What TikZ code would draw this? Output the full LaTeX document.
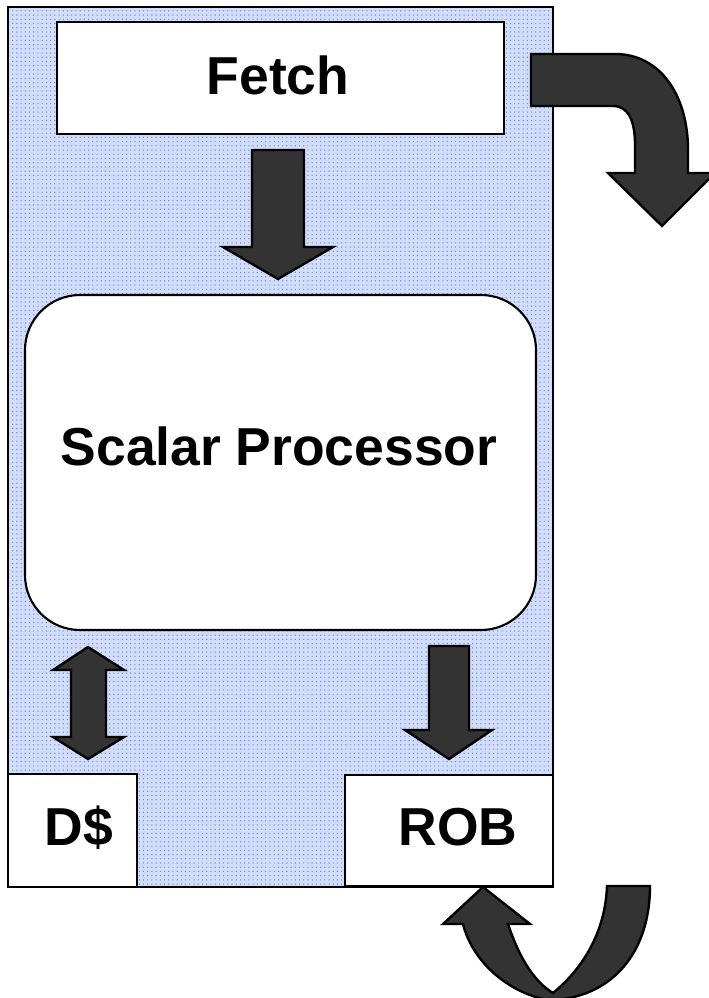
\documentclass[tikz,border=0pt]{standalone}
\usepackage{fontspec}
\setmainfont{Liberation Sans}
\usetikzlibrary{patterns}
\definecolor{panelblue}{RGB}{210,221,250}
\definecolor{dotblue}{RGB}{100,136,240}
\definecolor{arrowgray}{RGB}{51,51,51}
\tikzset{
  box/.style={draw=black, line width=1.5pt, fill=white},
  blockarrow/.style={draw=black, line width=1.7pt, fill=arrowgray, line join=miter},
  lbl/.style={anchor=base, inner sep=0pt, font=\fontsize{38}{45}\selectfont\bfseries}
}

\begin{document}
\begin{tikzpicture}[x=0.025cm, y=-0.025cm]
  \useasboundingbox (0,0) rectangle (709,998);

  % Core panel
  \fill[panelblue] (8,7) rectangle (553,887);
  \fill[pattern=dots, pattern color=dotblue] (8,7) rectangle (553,887);
  \draw[line width=2.1pt] (8,7) rectangle (553,887);

  % Boxes
  \draw[box] (57,22) rectangle (504,134);
  \node[lbl] (fetch) at (278,95) {Fetch};

  \draw[box, rounded corners=1.375cm] (25,295) rectangle (536,630);
  \node[lbl] (scalar) at (279,465) {Scalar Processor};

  \draw[box] (8,774) rectangle (137,887);
  \node[lbl] (dcache) at (79,845) {D\$};

  \draw[box] (345,775) rectangle (553,886);
  \node[lbl] (rob) at (458,845) {ROB};

  % Straight block arrows
  \draw[blockarrow] (252,150) -- (304,150) -- (304,247) -- (333,247) -- (278,279)
    -- (223,247) -- (252,247) -- cycle;
  \draw[blockarrow] (88,647) -- (124,670) -- (106,670) -- (106,737) -- (124,737)
    -- (88,759) -- (53,737) -- (71,737) -- (71,670) -- (53,670) -- cycle;
  \draw[blockarrow] (429,646) -- (469,646) -- (469,730) -- (492,730) -- (449,759)
    -- (405,730) -- (429,730) -- cycle;

  % Curved block arrows
  \draw[blockarrow] (531,54) -- (615,54) .. controls (660,54) and (688,95) .. (688,150)
    -- (688,173) -- (715,173) -- (662,226) -- (608,173) -- (635,173) -- (635,145)
    .. controls (635,120) and (628,106) .. (613,106) -- (531,106) -- cycle;
  \draw[blockarrow] (483,887) -- (530,924) -- (508,924)
    .. controls (520,960) and (535,982) .. (553,993)
    .. controls (575,975) and (605,940) .. (607,886) -- (650,886)
    .. controls (650,950) and (615,992) .. (563,999) -- (543,999)
    .. controls (505,990) and (472,960) .. (463,924) -- (443,924) -- cycle;
\end{tikzpicture}
\end{document}
